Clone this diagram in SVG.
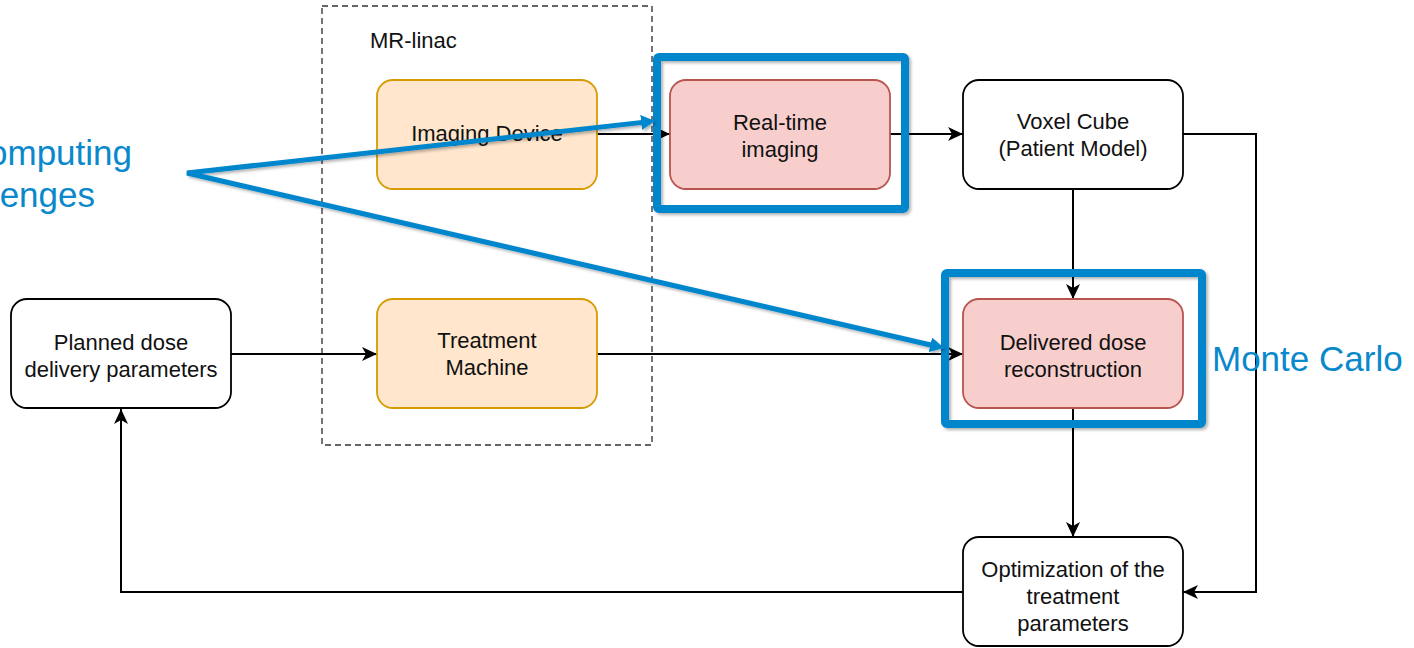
<svg xmlns="http://www.w3.org/2000/svg" width="1414" height="648" viewBox="0 0 1414 648">
<style>
.node{stroke-width:1.8}
.plain{fill:#ffffff;stroke:#000000}
.orange{fill:#ffe6cc;stroke:#d79b00}
.red{fill:#f8cecc;stroke:#b85450}
.lbl{font-family:"Liberation Sans",Arial,sans-serif;font-size:22px;fill:#111111;text-anchor:middle}
.conn{fill:none;stroke:#000000;stroke-width:2}
.blue{fill:none;stroke:#0086cc}
.big{font-family:"Liberation Sans",Arial,sans-serif;font-size:35px;fill:#0a88cc}
</style>
<defs>
<marker id="arr" markerWidth="16" markerHeight="14" refX="15" refY="7" orient="auto" markerUnits="userSpaceOnUse">
<path d="M0,0 L15,7 L0,14 L4,7 Z" fill="#000000"/>
</marker>
<marker id="barr" markerWidth="16" markerHeight="16" refX="6" refY="7.5" orient="auto-start-reverse" markerUnits="userSpaceOnUse">
<path d="M0,0 L14,7.5 L0,15 Z" fill="#0086cc"/>
</marker>
<filter id="sh" x="-10%" y="-10%" width="120%" height="120%">
<feDropShadow dx="2" dy="2" stdDeviation="1.5" flood-color="#000000" flood-opacity="0.3"/>
</filter>
</defs>

<g id="mr-linac">
<rect x="322" y="6" width="330" height="439" fill="none" stroke="#666666" stroke-width="1.8" stroke-dasharray="6,4"/>
<text x="370" y="48" class="lbl" style="text-anchor:start">MR-linac</text>
</g>

<g id="connectors">
<path class="conn" d="M597,134 L670,134" marker-end="url(#arr)"/>
<path class="conn" d="M890,134 L963,134" marker-end="url(#arr)"/>
<path class="conn" d="M1073,189 L1073,299" marker-end="url(#arr)"/>
<path class="conn" d="M1183,134 L1256,134 L1256,592 L1183,592" marker-end="url(#arr)"/>
<path class="conn" d="M231,354 L377,354" marker-end="url(#arr)"/>
<path class="conn" d="M597,354 L963,354" marker-end="url(#arr)"/>
<path class="conn" d="M1073,408 L1073,537" marker-end="url(#arr)"/>
<path class="conn" d="M963,592 L121,592 L121,409" marker-end="url(#arr)"/>
</g>

<g id="imaging-device">
<rect x="377" y="80" width="220" height="109" rx="16" class="node orange"/>
<text x="487" y="141" class="lbl">Imaging Device</text>
</g>

<g id="treatment-machine">
<rect x="377" y="299" width="220" height="109" rx="16" class="node orange"/>
<text x="487" y="348" class="lbl">Treatment</text>
<text x="487" y="375" class="lbl">Machine</text>
</g>

<g id="real-time-imaging">
<rect x="670" y="80" width="220" height="109" rx="16" class="node red"/>
<text x="780" y="130" class="lbl">Real-time</text>
<text x="780" y="157" class="lbl">imaging</text>
</g>

<g id="voxel-cube">
<rect x="963" y="80" width="220" height="109" rx="16" class="node plain"/>
<text x="1073" y="129" class="lbl">Voxel Cube</text>
<text x="1073" y="156" class="lbl">(Patient Model)</text>
</g>

<g id="delivered-dose">
<rect x="963" y="299" width="220" height="109" rx="16" class="node red"/>
<text x="1073" y="350" class="lbl">Delivered dose</text>
<text x="1073" y="377" class="lbl">reconstruction</text>
</g>

<g id="planned-dose">
<rect x="11" y="299" width="220" height="109" rx="16" class="node plain"/>
<text x="121" y="350" class="lbl">Planned dose</text>
<text x="121" y="377" class="lbl">delivery parameters</text>
</g>

<g id="optimization">
<rect x="963" y="537" width="220" height="109" rx="16" class="node plain"/>
<text x="1073" y="577" class="lbl">Optimization of the</text>
<text x="1073" y="604" class="lbl">treatment</text>
<text x="1073" y="631" class="lbl">parameters</text>
</g>

<g id="annotations">
<rect x="657" y="57" width="248" height="152" rx="2" class="blue" stroke-width="8" filter="url(#sh)"/>
<rect x="945" y="273" width="257" height="151" rx="2" class="blue" stroke-width="8" filter="url(#sh)"/>
<path class="blue" stroke-width="5" stroke-linejoin="miter" d="M647.05,121.88 L187,173 L936.2,346.2" marker-start="url(#barr)" marker-end="url(#barr)" filter="url(#sh)"/>
<text x="132" y="165" class="big" text-anchor="end">Computing</text>
<text x="95" y="207" class="big" text-anchor="end">challenges</text>
<text x="1212" y="371" class="big">Monte Carlo</text>
</g>
</svg>
